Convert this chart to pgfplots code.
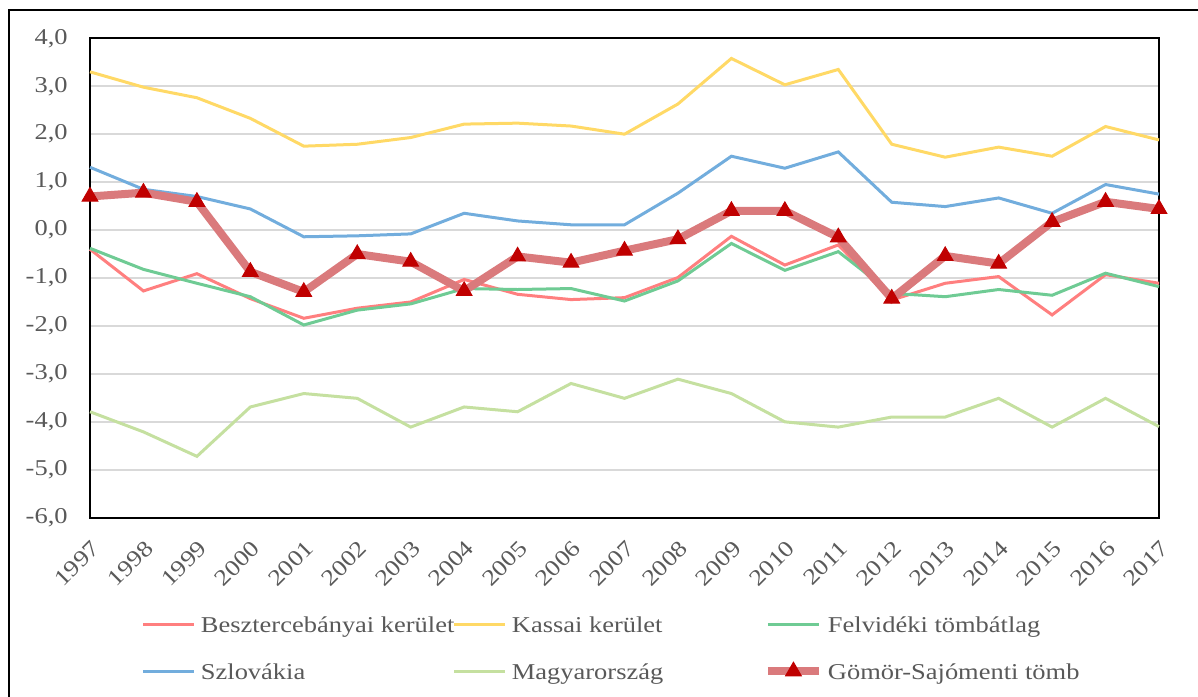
\documentclass[border=0pt]{standalone}
\usepackage{fontspec}
\setmainfont[FakeStretch=1.17]{Liberation Serif}
\usepackage{pgfplots}
\pgfplotsset{compat=1.18}
\definecolor{cBeszt}{HTML}{FF7F7F}
\definecolor{cKassai}{HTML}{FFD966}
\definecolor{cFelv}{HTML}{6FCB94}
\definecolor{cSzlov}{HTML}{72ADDD}
\definecolor{cMagy}{HTML}{C5E0A0}
\definecolor{cGomor}{HTML}{DA7A7C}
\definecolor{cMark}{HTML}{C00000}
\definecolor{gridgray}{HTML}{D9D9D9}
\definecolor{labelgray}{HTML}{595959}
\newcommand{\lf}{\fontsize{11.35}{13.6}\selectfont}
\begin{document}
\begin{tikzpicture}
\useasboundingbox (0,0) rectangle (599bp,-348.5bp);
\draw[line width=1.3bp] (4.5bp,-348.5bp) -- (4.5bp,-5bp) -- (599bp,-5bp);
\begin{axis}[
  scale only axis, width=534.5bp, height=239.7bp,
  at={(45bp,-258.85bp)}, anchor=south west,
  xmin=1997, xmax=2017, ymin=-6, ymax=4,
  xtick={1997,1998,...,2017}, ytick={-6,-5,...,4},
  ymajorgrids, grid style={color=gridgray, line width=0.75bp},
  axis line style={line width=1bp, black},
  major tick length=0pt,
  clip=false,
  /pgf/number format/assume math mode=true,
  tick label style={font=\lf, text=labelgray},
  x tick label style={/pgf/number format/1000 sep={}, anchor=east, inner sep=0pt, xshift=3bp, yshift=-13.5bp, rotate=45},
  y tick label style={/pgf/number format/fixed, /pgf/number format/fixed zerofill, /pgf/number format/precision=1, /pgf/number format/use comma, inner sep=0pt, xshift=-11bp},
  legend columns=3,
  legend image code/.code={\draw[mark repeat=2,mark phase=2,#1] plot coordinates {(0bp,0bp) (12.75bp,0bp) (25.5bp,0bp)};},
  legend style={draw=none, fill=none, inner sep=0pt, outer sep=0pt,
    at={(0.0486,-0.2007)}, anchor=north west, font=\lf, text=labelgray,
    nodes={inner sep=0pt},
    row sep=12.2bp,
    /tikz/every odd column/.append style={column sep=2.5bp},
    /tikz/every even column/.append style={column sep=0pt}},
  legend cell align=left,
]
\addplot[cBeszt, line width=1.5bp] coordinates {
(1997,-0.40) (1998,-1.27) (1999,-0.91) (2000,-1.43) (2001,-1.84) (2002,-1.63) (2003,-1.50) (2004,-1.03) (2005,-1.34) (2006,-1.45) (2007,-1.41) (2008,-0.99) (2009,-0.13) (2010,-0.73) (2011,-0.31) (2012,-1.46) (2013,-1.11) (2014,-0.97) (2015,-1.77) (2016,-0.93) (2017,-1.11)};
\addlegendentry{\makebox[126bp][l]{\strut Besztercebányai kerület}}
\addplot[cKassai, line width=1.5bp] coordinates {
(1997,3.30) (1998,2.98) (1999,2.76) (2000,2.33) (2001,1.75) (2002,1.79) (2003,1.93) (2004,2.21) (2005,2.23) (2006,2.17) (2007,2.00) (2008,2.63) (2009,3.58) (2010,3.03) (2011,3.35) (2012,1.79) (2013,1.52) (2014,1.73) (2015,1.54) (2016,2.16) (2017,1.88)};
\addlegendentry{\makebox[126bp][l]{\strut Kassai kerület}}
\addplot[cFelv, line width=1.5bp] coordinates {
(1997,-0.38) (1998,-0.82) (1999,-1.11) (2000,-1.39) (2001,-1.98) (2002,-1.67) (2003,-1.54) (2004,-1.22) (2005,-1.24) (2006,-1.22) (2007,-1.48) (2008,-1.06) (2009,-0.28) (2010,-0.84) (2011,-0.45) (2012,-1.32) (2013,-1.39) (2014,-1.24) (2015,-1.36) (2016,-0.90) (2017,-1.18)};
\addlegendentry{\strut Felvidéki tömbátlag}
\addplot[cSzlov, line width=1.5bp] coordinates {
(1997,1.31) (1998,0.85) (1999,0.70) (2000,0.44) (2001,-0.14) (2002,-0.12) (2003,-0.08) (2004,0.35) (2005,0.19) (2006,0.11) (2007,0.11) (2008,0.77) (2009,1.54) (2010,1.29) (2011,1.63) (2012,0.58) (2013,0.49) (2014,0.67) (2015,0.35) (2016,0.95) (2017,0.75)};
\addlegendentry{\makebox[126bp][l]{\strut Szlovákia}}
\addplot[cMagy, line width=1.5bp] coordinates {
(1997,-3.79) (1998,-4.21) (1999,-4.72) (2000,-3.69) (2001,-3.41) (2002,-3.51) (2003,-4.11) (2004,-3.69) (2005,-3.79) (2006,-3.20) (2007,-3.51) (2008,-3.11) (2009,-3.41) (2010,-4.00) (2011,-4.11) (2012,-3.90) (2013,-3.90) (2014,-3.51) (2015,-4.11) (2016,-3.51) (2017,-4.10)};
\addlegendentry{\makebox[126bp][l]{\strut Magyarország}}
\addplot[cGomor, line width=4bp, mark=triangle*, mark size=4.5bp, mark options={fill=cMark, draw=cMark, line width=0.5bp}] coordinates {
(1997,0.70) (1998,0.78) (1999,0.59) (2000,-0.87) (2001,-1.29) (2002,-0.50) (2003,-0.66) (2004,-1.27) (2005,-0.55) (2006,-0.68) (2007,-0.43) (2008,-0.19) (2009,0.40) (2010,0.40) (2011,-0.15) (2012,-1.43) (2013,-0.54) (2014,-0.70) (2015,0.17) (2016,0.59) (2017,0.44)};
\addlegendentry{\strut Gömör-Sajómenti tömb}
\end{axis}
\end{tikzpicture}
\end{document}
